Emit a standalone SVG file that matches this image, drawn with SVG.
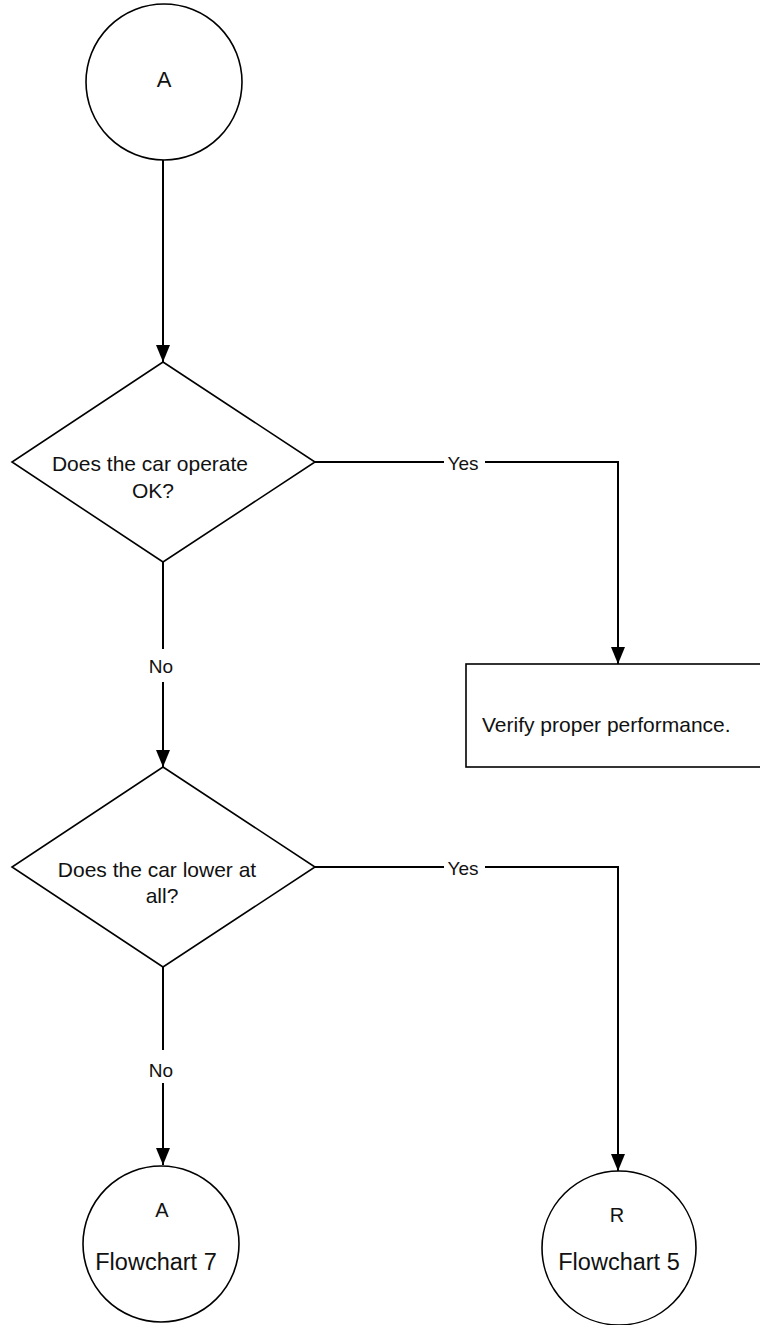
<svg xmlns="http://www.w3.org/2000/svg" width="760" height="1325" viewBox="0 0 760 1325">
<style>
.shape{fill:#fff;stroke:#000;stroke-width:1.6}
.conn{fill:none;stroke:#000;stroke-width:2}
text{font-family:"Liberation Sans",Arial,sans-serif;fill:#111}
.q{font-size:21px;text-anchor:middle}
.lbl{font-size:19px;text-anchor:middle}
.big{font-size:23.5px;text-anchor:middle}
</style>
<defs>
<marker id="arr" markerUnits="userSpaceOnUse" markerWidth="17" markerHeight="14" refX="17" refY="7" orient="auto">
<path d="M0,0 L17,7 L0,14 z" fill="#000"/>
</marker>
</defs>
<rect width="760" height="1325" fill="#fff"/>
<g id="connectors">
<path class="conn" d="M163,160 V362" marker-end="url(#arr)"/>
<path class="conn" d="M315,462 H444 M485,462 H618 V664" marker-end="url(#arr)"/>
<path class="conn" d="M163,562 V649 M163,682 V767" marker-end="url(#arr)"/>
<path class="conn" d="M315,867 H444 M485,867 H618 V1171" marker-end="url(#arr)"/>
<path class="conn" d="M163,967 V1050 M163,1083 V1165" marker-end="url(#arr)"/>
<text class="lbl" x="463" y="470">Yes</text>
<text class="lbl" x="161" y="673">No</text>
<text class="lbl" x="463" y="875">Yes</text>
<text class="lbl" x="161" y="1077">No</text>
</g>
<g id="start">
<circle class="shape" cx="164" cy="82" r="78"/>
<text class="q" x="164" y="87" style="font-size:22px">A</text>
</g>
<g id="q1">
<polygon class="shape" points="163,362 315,462 163,562 12,462"/>
<text class="q" x="150" y="471">Does the car operate</text>
<text class="q" x="153" y="498">OK?</text>
</g>
<g id="verify">
<rect class="shape" x="466" y="664" width="320" height="103"/>
<text x="482" y="732" style="font-size:21px">Verify proper performance.</text>
</g>
<g id="q2">
<polygon class="shape" points="163,767 315,867 163,967 12,867"/>
<text class="q" x="157" y="877">Does the car lower at</text>
<text class="q" x="162" y="903">all?</text>
</g>
<g id="flow7">
<circle class="shape" cx="161" cy="1244" r="78"/>
<text class="q" x="162" y="1217" style="font-size:20px">A</text>
<text class="big" x="156" y="1270">Flowchart 7</text>
</g>
<g id="flow5">
<circle class="shape" cx="619" cy="1248" r="77"/>
<text class="q" x="617" y="1222" style="font-size:20px">R</text>
<text class="big" x="619" y="1270">Flowchart 5</text>
</g>
</svg>
